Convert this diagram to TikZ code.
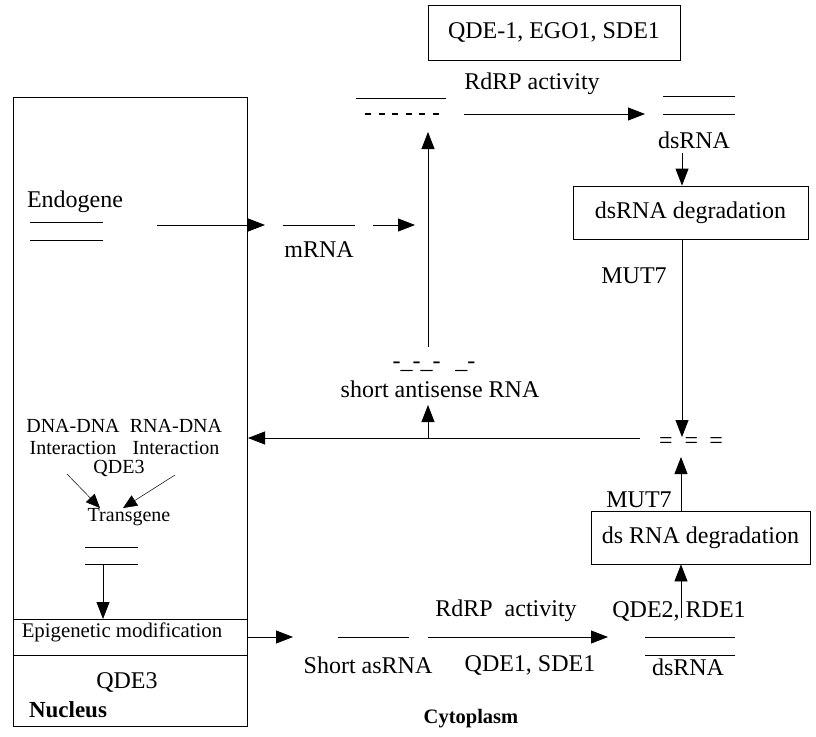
\documentclass[tikz,border=0pt]{standalone}
\usepackage{fontspec}
\setmainfont{Liberation Serif}
\usetikzlibrary{arrows.meta}

\begin{document}
\begin{tikzpicture}[x=1pt,y=-1pt,line width=0.8pt]
	\tikzstyle{pfeil}=[-{Triangle[length=17pt,width=13pt]}];
	\tikzstyle{kasten}=[draw,inner sep=0pt];
	\tikzstyle{txt}=[inner sep=0pt,font=\fontsize{24}{27}\selectfont];
	\tikzstyle{klein}=[inner sep=0pt,align=center,font=\fontsize{20}{22}\selectfont];
	\tikzstyle{fett}=[inner sep=0pt,font=\fontsize{20.5}{23}\selectfont\bfseries];
	\useasboundingbox (0,0) rectangle (816,736);

	% nucleus
	\draw (13,97) rectangle (247,726);
	\draw (13,619) -- (247,619);
	\draw (13,655) -- (247,655);
	\node[txt] (endo) at (75,202) {Endogene};
	\draw (30,222) -- (103,222);
	\draw (30,240) -- (103,240);
	\node[klein] (dnadna) at (73,437) {DNA-DNA\\Interaction};
	\node[klein] (rnadna) at (176,437) {RNA-DNA\\Interaction};
	\node[klein] (qdec) at (119,468) {QDE3};
	\node[klein] (trans) at (129,517) {Transgene};
	\coordinate (ia) at (67,474);  \coordinate (ib) at (100,508);
	\coordinate (ic) at (175,475); \coordinate (id) at (123,508);
	\draw[-{Triangle[length=14pt,width=12pt]},line width=0.5pt] (ia) -- (ib);
	\draw[-{Triangle[length=14pt,width=12pt]},line width=0.5pt] (ic) -- (id);
	\draw (85,547) -- (138,547);
	\draw (85,564) -- (138,564);
	\coordinate (ta) at (103,564); \coordinate (tb) at (103,619);
	\draw[pfeil] (ta) -- (tb);
	\node[inner sep=0pt,font=\fontsize{20.8}{22}\selectfont] (epi) at (122,632) {Epigenetic modification};
	\node[txt] (qded) at (127,682) {QDE3};
	\node[fett,font=\fontsize{23}{26}\selectfont\bfseries] (nuc) at (68,710) {Nucleus};

	% top
	\node[kasten,txt,minimum width=252pt,minimum height=55pt] (enz) at (554,32.5) {QDE-1, EGO1, SDE1};
	\node[txt] (rdrpa) at (532,84) {RdRP activity};
	\draw (356,98) -- (446,98);
	\draw[line width=1.3pt,dash pattern=on 6pt off 7.5pt] (365,114) -- (443,114);
	\coordinate (ra) at (464,114); \coordinate (rb) at (645,114);
	\draw[pfeil] (ra) -- (rb);
	\draw (663,96) -- (735,96);
	\draw (663,114) -- (735,114);
	\node[txt] (dsa) at (694,140) {dsRNA};
	\node[kasten,txt,minimum width=235pt,minimum height=53pt] (dega) at (690.5,212.5) {dsRNA degradation};
	\coordinate (da) at (682,153);
	\draw[pfeil] (da) -- (da |- dega.north);
	\node[txt] (muta) at (634,276) {MUT7};
	\node[txt] (eq) at (691,443) {=\hspace{12pt}=\hspace{11pt}=};
	\coordinate (eqa) at (682,437);
	\draw[pfeil] (eqa |- dega.south) -- (eqa);
	\node[kasten,txt,minimum width=219pt,minimum height=53pt] (degb) at (700.5,537.5) {ds RNA degradation};
	\node[txt] (mutb) at (639,500) {MUT7};
	\coordinate (eqb) at (681,457);
	\draw[pfeil] (eqb |- degb.north) -- (eqb);

	% mRNA and antisense
	\coordinate (ea) at (157,225); \coordinate (eb) at (265,225);
	\draw[pfeil] (ea) -- (eb);
	\draw (283,225) -- (355,225);
	\node[txt] (mrna) at (319,250) {mRNA};
	\coordinate (ma) at (373,225); \coordinate (mb) at (415,225);
	\draw[pfeil] (ma) -- (mb);
	\node[txt] (dash) at (434,367) {-\_-\_-\hspace{15pt}\_-};
	\node[txt] (asrna) at (440,389) {short antisense RNA};
	\coordinate (va) at (428,347); \coordinate (vb) at (428,132);
	\draw[pfeil] (va) -- (vb);
	\coordinate (la) at (640,438); \coordinate (lb) at (248,438);
	\draw[pfeil] (la) -- (lb);
	\coordinate (sa) at (428,438); \coordinate (sb) at (428,405);
	\draw[pfeil] (sa) -- (sb);

	% bottom
	\coordinate (ba) at (247,637); \coordinate (bb) at (293,637);
	\draw[pfeil] (ba) -- (bb);
	\draw (338,637) -- (409,637);
	\node[txt] (sas) at (368,665) {Short asRNA};
	\node[txt] (rdrpb) at (506,611) {RdRP\ \ activity};
	\coordinate (bc) at (428,637); \coordinate (bd) at (608,637);
	\draw[pfeil] (bc) -- (bd);
	\node[txt] (qdeb) at (530,665) {QDE1, SDE1};
	\node[txt] (qdee) at (679,611) {QDE2, RDE1};
	\draw (645,637) -- (735,637);
	\draw (645,655) -- (735,655);
	\node[txt] (dsb) at (688,667) {dsRNA};
	\coordinate (be) at (681,618);
	\draw[pfeil] (be) -- (be |- degb.south);
	\node[fett] (cyto) at (471,719) {Cytoplasm};
\end{tikzpicture}
\end{document}
